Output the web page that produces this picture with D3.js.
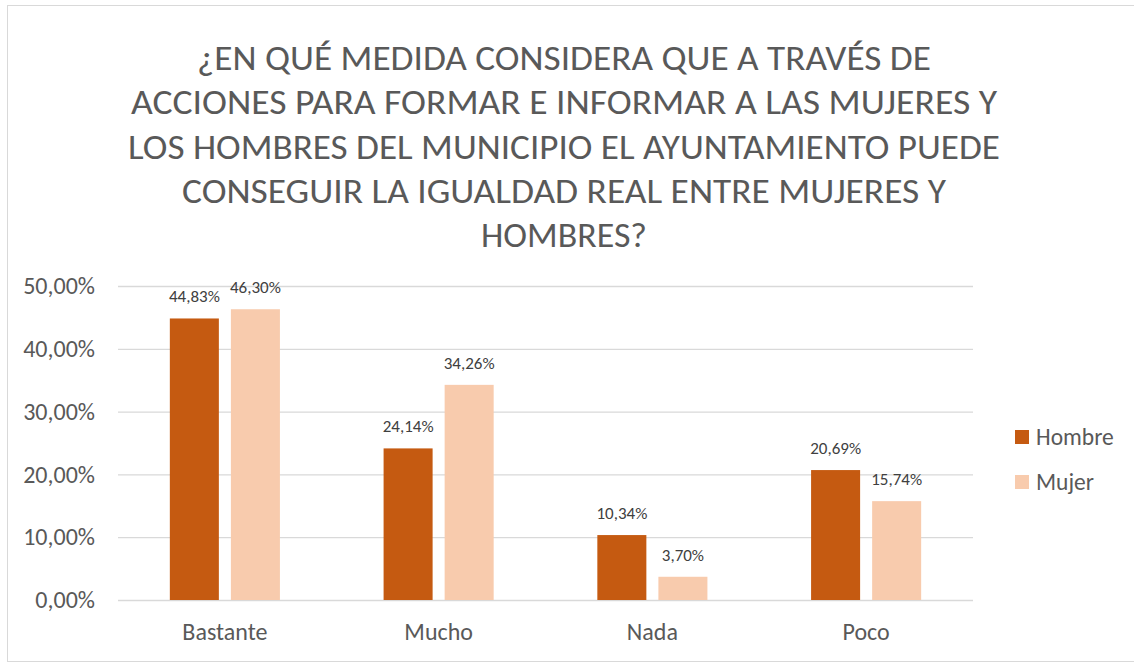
<!DOCTYPE html>
<html>
<head>
<meta charset="utf-8">
<script src="https://cdn.jsdelivr.net/npm/d3@7"></script>
<style>
  body { margin: 0; background: #fff; }
  text { font-family: Carlito, "Open Sans", sans-serif; }
</style>
</head>
<body>
<div id="chart"></div>
<script>
// data
var categories = ["Bastante", "Mucho", "Nada", "Poco"];
var series = ["Hombre", "Mujer"];
var hombre = [44.83, 24.14, 10.34, 20.69];
var mujer = [46.30, 34.26, 3.70, 15.74];
var yTicks = [0, 10, 20, 30, 40, 50];
var titleLines = [
  "¿EN QUÉ MEDIDA CONSIDERA QUE A TRAVÉS DE",
  "ACCIONES PARA FORMAR E INFORMAR A LAS MUJERES Y",
  "LOS HOMBRES DEL MUNICIPIO EL AYUNTAMIENTO PUEDE",
  "CONSEGUIR LA IGUALDAD REAL ENTRE MUJERES Y",
  "HOMBRES?"
];
var titleWidths = [734, 866, 872, 764, 166];

var svgWidth = 1134;
var svgHeight = 663;
var colors = { Hombre: "#C55A11", Mujer: "#F8CBAD" };

var margin = { top: 286, right: 161, bottom: 63, left: 118 };
var width = svgWidth - margin.left - margin.right;
var height = 600 - margin.top;

var svg = d3.select("#chart")
  .append("svg")
  .attr("width", svgWidth)
  .attr("height", svgHeight);

// chart border
svg.append("rect")
  .attr("x", 7.5)
  .attr("y", 5.5)
  .attr("width", 1140)
  .attr("height", 656)
  .attr("fill", "#fff")
  .attr("stroke", "#d9d9d9")
  .attr("stroke-width", 1);

// title
svg.append("g").selectAll("text")
  .data(titleLines)
  .enter()
  .append("text")
  .attr("x", 564)
  .attr("y", (d, i) => 70 + i * 44.3)
  .attr("text-anchor", "middle")
  .attr("font-size", 34)
  .attr("fill", "#595959")
  .attr("textLength", (d, i) => titleWidths[i])
  .attr("lengthAdjust", "spacingAndGlyphs")
  .text(d => d);

var chartGroup = svg.append("g")
  .attr("transform", `translate(${margin.left}, ${margin.top})`);

var yScale = d3.scaleLinear()
  .domain([0, 50])
  .range([height, 0]);

var x0 = d3.scaleBand()
  .domain(categories)
  .range([0, width])
  .paddingInner(0.485)
  .paddingOuter(0.2425);

var x1 = d3.scaleBand()
  .domain(series)
  .range([0, x0.bandwidth()])
  .paddingInner(0.197);

// gridlines + y labels
var leftAxis = d3.axisLeft(yScale)
  .tickValues(yTicks)
  .tickSize(-width)
  .tickPadding(23)
  .tickFormat(d => d3.format(".2f")(d).replace(".", ",") + "%");

var yAxis = chartGroup.append("g").call(leftAxis);
yAxis.select(".domain").remove();
yAxis.selectAll("line").attr("stroke", "#d9d9d9").attr("stroke-width", 1.3);
yAxis.selectAll("text")
  .attr("fill", "#595959")
  .attr("font-size", 24)
  .style("font-family", 'Carlito, "Open Sans", sans-serif');

// x labels
var bottomAxis = d3.axisBottom(x0).tickSize(0).tickPadding(23);
var xAxis = chartGroup.append("g")
  .attr("transform", `translate(0, ${height})`)
  .call(bottomAxis);
xAxis.select(".domain").remove();
xAxis.selectAll("text")
  .attr("fill", "#595959")
  .attr("font-size", 24)
  .style("font-family", 'Carlito, "Open Sans", sans-serif');

var rows = categories.map((c, i) => ({
  cat: c,
  vals: [{ key: "Hombre", v: hombre[i] }, { key: "Mujer", v: mujer[i] }]
}));

var groups = chartGroup.selectAll(".cat")
  .data(rows)
  .enter()
  .append("g")
  .attr("transform", d => `translate(${x0(d.cat)}, 0)`);

groups.selectAll("rect")
  .data(d => d.vals)
  .enter()
  .append("rect")
  .attr("x", d => x1(d.key))
  .attr("y", d => yScale(d.v))
  .attr("width", x1.bandwidth())
  .attr("height", d => height - yScale(d.v))
  .attr("fill", d => colors[d.key]);

groups.selectAll(".lbl")
  .data(d => d.vals)
  .enter()
  .append("text")
  .attr("x", d => x1(d.key) + x1.bandwidth() / 2)
  .attr("y", d => yScale(d.v) - 16)
  .attr("text-anchor", "middle")
  .attr("font-size", 17)
  .attr("fill", "#404040")
  .text(d => d3.format(".2f")(d.v).replace(".", ",") + "%");

// legend
var legend = svg.append("g")
  .attr("transform", "translate(1015, 430)");

var item = legend.selectAll("g")
  .data(series)
  .enter()
  .append("g")
  .attr("transform", (d, i) => `translate(0, ${i * 45})`);

item.append("rect")
  .attr("width", 14)
  .attr("height", 14)
  .attr("fill", d => colors[d]);

item.append("text")
  .attr("x", 21)
  .attr("y", 7)
  .attr("dy", "0.35em")
  .attr("font-size", 23.5)
  .attr("fill", "#595959")
  .text(d => d);
</script>
</body>
</html>
